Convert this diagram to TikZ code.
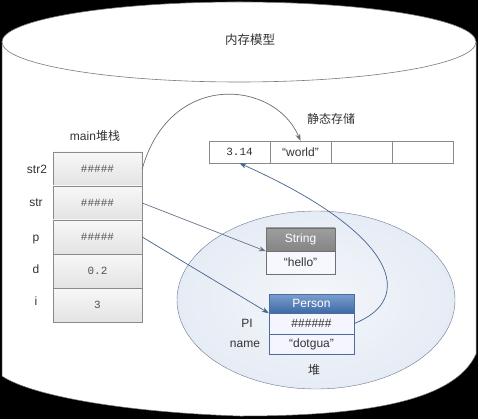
\documentclass[tikz,border=0pt]{standalone}
\usepackage{fontspec}
\setmainfont{Liberation Sans}
\setmonofont{Liberation Mono}
\newfontfamily\cjk{Noto Sans CJK SC}
\usetikzlibrary{arrows.meta,shapes.geometric}
\definecolor{cylline}{HTML}{7A7A7A}
\definecolor{cellline}{HTML}{8A8A8A}
\definecolor{txt}{HTML}{333333}
\definecolor{heapfill}{HTML}{E6ECF5}
\definecolor{heapline}{HTML}{6A7890}
\definecolor{pblue}{HTML}{4F7EBD}
\definecolor{pbluedark}{HTML}{3E6AA6}
\definecolor{pline}{HTML}{4A6C9E}
\definecolor{sgray}{HTML}{8C8C8C}
\definecolor{arrgray}{HTML}{6E6E6E}
\definecolor{arrslate}{HTML}{66758A}
\definecolor{arrblue}{HTML}{45638F}
\tikzset{
  lab/.style={text=txt, font=\fontsize{12}{14}\selectfont, inner sep=0pt},
  cell/.style={draw=cellline, minimum width=89pt, minimum height=34pt, inner sep=0pt,
    top color=white!97!black, bottom color=white!89!black, text=txt!85,
    font=\ttfamily\fontsize{11}{13}\selectfont},
  scell/.style={draw=cellline, fill=white, minimum width=61pt, minimum height=22pt, inner sep=0pt,
    text=txt, font=\fontsize{12}{14}\selectfont},
  heap/.style={ellipse, draw=heapline, inner color=heapfill!45!white, outer color=heapfill,
    minimum width=278pt, minimum height=178pt, inner sep=0pt},
  shead/.style={draw=sgray!80!black, top color=sgray!85!white, bottom color=sgray!95!black,
    minimum width=69pt, minimum height=23pt, inner sep=0pt, text=white, font=\fontsize{12}{14}\selectfont},
  sbody/.style={draw=sgray!80!black, fill=white!97!blue, minimum width=69pt, minimum height=23pt,
    inner sep=0pt, text=txt, font=\fontsize{12}{14}\selectfont},
  phead/.style={draw=pline, top color=pblue!75!white, bottom color=pbluedark,
    minimum width=85pt, minimum height=19pt, inner sep=0pt, text=white, font=\fontsize{12}{14}\selectfont},
  prow/.style={draw=pline, fill=white!96!blue, minimum width=85pt, inner sep=0pt,
    text=txt, font=\fontsize{12}{14}\selectfont},
  garrow/.style={draw=arrgray, line width=0.7pt, -{Stealth[length=7pt,width=5pt]}},
  sarrow/.style={draw=arrslate, line width=0.7pt, -{Stealth[length=7pt,width=5pt]}},
  barrow/.style={draw=arrblue, line width=0.7pt, -{Stealth[length=7pt,width=5pt]}}
}
\begin{document}
\begin{tikzpicture}[x=1pt,y=-1pt]
\fill[black] (0,0) rectangle (478,419);
\useasboundingbox (0,0) rectangle (478,419);
% cylinder
\fill[white] (2,42) -- (2,376) .. controls (30,395) and (120,412) .. (240,416)
  .. controls (370,416) and (455,400) .. (476,354) -- (476,42) -- cycle;
\draw[cylline, line width=0.5pt] (2,42) -- (2,376) .. controls (30,395) and (120,412) .. (240,416)
  .. controls (370,416) and (455,400) .. (476,354) -- (476,42);
\draw[cylline, fill=white, line width=0.6pt] (239,42) ellipse [x radius=237pt, y radius=40pt];
\node[lab, font=\cjk\fontsize{12.5}{14}\selectfont] (title) at (250,40) {内存模型};
% stack
\node[lab] (stacktitle) at (95,136) {main{\cjk 堆栈}};
\node[cell] (s2) at (97.5,169) {\#\#\#\#\#};
\node[cell] (s1) at (97.5,203) {\#\#\#\#\#};
\node[cell] (sp) at (97.5,237) {\#\#\#\#\#};
\node[cell] (sd) at (97.5,271) {0.2};
\node[cell] (si) at (97.5,305) {3};
\node[lab, anchor=base] (l2) at (37,174) {str2};
\node[lab, anchor=base] (l1) at (36,207) {str};
\node[lab, anchor=base] (lp) at (36,241) {p};
\node[lab, anchor=base] (ld) at (36,273) {d};
\node[lab, anchor=base] (li) at (36,305) {i};
% static storage
\node[lab, font=\cjk\fontsize{12}{14}\selectfont] (stitle) at (331,119) {静态存储};
\node[scell, font=\ttfamily\fontsize{11}{13}\selectfont] (c1) at (239.5,152) {3.14};
\node[scell] (c2) at (300.5,152) {“world”};
\node[scell] (c3) at (361.5,152) {};
\node[scell] (c4) at (422.5,152) {};
% heap
\node[heap] (heap) at (316,300) {};
\node[lab, font=\cjk\fontsize{12}{14}\selectfont] (heaplab) at (314,370) {堆};
\node[shead] (sh) at (300.5,239.5) {String};
\node[sbody] (sb) at (300.5,262.5) {“hello”};
\node[phead] (ph) at (311.5,303.5) {Person};
\node[prow, minimum height=21pt] (pr1) at (311.5,323.5) {\#\#\#\#\#\#};
\node[prow, minimum height=20pt] (pr2) at (311.5,344) {“dotgua”};
\node[lab] (lpi) at (247,323) {PI};
\node[lab] (lname) at (245,344) {name};
% connectors
\draw[garrow] (s2.east) .. controls (170,70) and (275,80) .. (c2.north);
\draw[sarrow] (s1.east) -- (sh.south west);
\draw[barrow] (sp.east) -- (ph.south west);
\draw[barrow] (pr1.east) .. controls (415,300) and (400,235) .. (c1.south);
\end{tikzpicture}
\end{document}
